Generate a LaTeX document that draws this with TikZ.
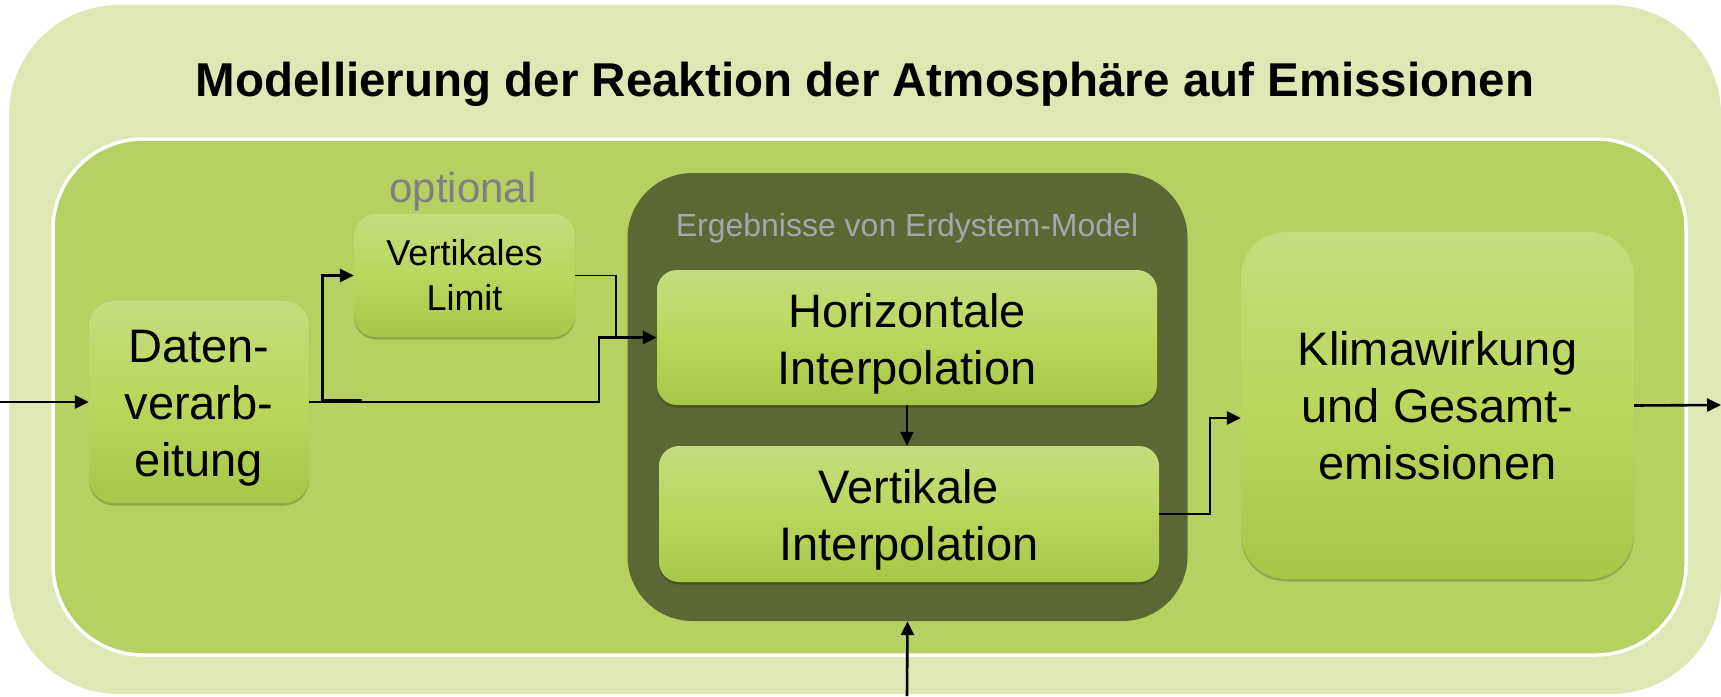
\documentclass[tikz,border=0pt]{standalone}
\usepackage{fontspec}
\setmainfont{Liberation Sans}
\usetikzlibrary{arrows.meta,shadows,calc}
\definecolor{outerbg}{RGB}{221,232,180}
\definecolor{innerbg}{RGB}{182,209,98}
\definecolor{darkbg}{RGB}{91,104,51}
\definecolor{boxtop}{RGB}{197,221,128}
\definecolor{boxmid}{RGB}{186,215,92}
\definecolor{boxbot}{RGB}{168,198,72}
\definecolor{optgray}{RGB}{128,128,132}
\definecolor{esmgray}{RGB}{166,166,172}
\begin{document}
\begin{tikzpicture}[x=1pt,y=-1pt,
  stepbox/.style={rectangle, inner sep=0pt, align=center,
    top color=boxtop, bottom color=boxbot, middle color=boxmid,
    font=\fontsize{47}{57}\selectfont,
    drop shadow={shadow xshift=0pt, shadow yshift=-2.5pt, opacity=0.2, fill=black}},
  conn/.style={line width=2.6pt, -{Triangle[length=14pt,width=13pt]}},
  thinconn/.style={line width=1.3pt}
]
\useasboundingbox (0,0) rectangle (1721,696);
\fill[white] (0,0) rectangle (1721,696);
% backgrounds
\node[rectangle, fill=outerbg, rounded corners=110pt, minimum width=1712pt, minimum height=689pt, inner sep=0pt] (outer) at (865,349.5) {};
\node[rectangle, fill=innerbg, draw=white, line width=3.5pt, rounded corners=90pt, minimum width=1633pt, minimum height=516pt, inner sep=0pt] (inner) at (869.5,397) {};
\node[font=\fontsize{47.5}{57}\selectfont\bfseries, anchor=base] (title) at (865,96) {Modellierung der Reaktion der Atmosphäre auf Emissionen};
\node[rectangle, fill=darkbg, rounded corners=65pt, minimum width=560pt, minimum height=448pt, inner sep=0pt] (esm) at (907.5,397) {};
\node[font=\fontsize{32}{38}\selectfont, text=esmgray, anchor=base] (esmlabel) at (907,236) {Ergebnisse von Erdystem-Model};
% process boxes
\node[stepbox, rounded corners=25pt, minimum width=220pt, minimum height=202pt, text height=158pt] (dat) at (199,402) {Daten-\\verarb-\\eitung};
\node[stepbox, rounded corners=22pt, minimum width=221pt, minimum height=123pt, font=\fontsize{36}{45}\selectfont] (vl) at (464.5,275.5) {Vertikales\\Limit};
\node[font=\fontsize{42}{50}\selectfont, text=optgray, anchor=base] (opt) at (463,202) {optional};
\node[stepbox, rounded corners=20pt, minimum width=500pt, minimum height=135pt, text height=103pt] (hi) at (907,337.5) {Horizontale\\Interpolation};
\node[stepbox, rounded corners=20pt, minimum width=500pt, minimum height=136pt, text height=103pt] (vi) at (909,514) {Vertikale\\Interpolation};
\node[stepbox, rounded corners=45pt, minimum width=393pt, minimum height=347pt] (kw) at (1437.5,405.5) {Klimawirkung\\und Gesamt-\\emissionen};
% connector points
\coordinate (inL) at (0,402);
\coordinate (j1) at (599,402);
\coordinate (j2) at (616,337.5);
\coordinate (j3) at (1210,418);
\coordinate (outR) at (1721,405);
\coordinate (inB) at (907,696);
% connectors
\draw[conn] (inL) -- (dat.west);
\draw[conn] (dat.east) -- ++(13,0) |- (vl.west);
\draw[line width=2.6pt] ($(dat.east)+(13,-1.5)$) -- ++(40,0);
\draw[conn] (dat.east) -- (dat.east -| j1) |- (hi.west);
\draw[thinconn] (vl.east) -| (j2);
\draw[conn] (hi.south) -- (hi.south |- vi.north);
\draw[conn] (vi.east) -| (j3) -- (j3 -| kw.west);
\draw[conn] (kw.east) -- (outR);
\draw[conn] (inB) -- (esm.south);
\end{tikzpicture}
\end{document}
